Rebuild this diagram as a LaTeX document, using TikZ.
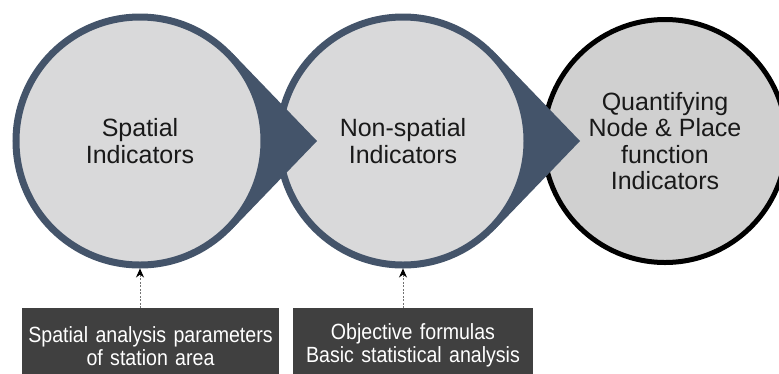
\documentclass[tikz,border=0pt]{standalone}
\usepackage{fontspec}
\setmainfont{Liberation Sans}
\newfontfamily\narrowfont[FakeStretch=0.89]{Liberation Sans}
\usetikzlibrary{arrows.meta}
\definecolor{slate}{HTML}{44546A}
\definecolor{disc}{HTML}{D9D9DA}
\definecolor{discend}{HTML}{D0D0D0}
\definecolor{boxgray}{HTML}{404040}

\begin{document}
\begin{tikzpicture}[x=1pt,y=-1pt] % image coordinates, y down
\tikzstyle{stage} = [circle, draw=slate, line width=7pt, fill=disc, minimum size=248pt, inner sep=0pt, align=center, text=black!90, font=\fontsize{25}{26.5}\selectfont] % stage circle
\tikzstyle{goal} = [stage, draw=black, line width=5pt, fill=discend, minimum size=243pt] % last circle
\tikzstyle{pointer} = [fill=slate] % wedge towards next circle
\tikzstyle{method} = [fill=boxgray, text=white, anchor=north, inner xsep=0pt, inner ysep=14pt, minimum height=75pt, align=center, font=\narrowfont\fontsize{22}{23}\selectfont] % method box
\tikzstyle{feed} = [draw=black!55, line width=0.8pt, dash pattern=on 2pt off 1.5pt, -{Stealth[length=9pt,width=8pt,color=black]}] % dashed input arrow

\clip (0,0) rectangle (779,373);

\coordinate (c1) at (140,141);
\coordinate (c2) at (403,141);
\coordinate (tip1) at (317,141);
\coordinate (tip2) at (580,141);

\node[goal] (quant) at (665,141) {Quantifying\\Node \& Place\\function\\Indicators};

\fill[pointer] (tip2) -- ([shift={(43.92:127.5)}]c2) -- (c2) -- ([shift={(-43.92:127.5)}]c2) -- cycle;
\node[stage] (nonspat) at (c2) {Non-spatial\\Indicators};

\fill[pointer] (tip1) -- ([shift={(43.92:127.5)}]c1) -- (c1) -- ([shift={(-43.92:127.5)}]c1) -- cycle;
\node[stage] (spat) at (c1) {Spatial\\Indicators};

% boxes below
\node[method, text width=257pt] (spatbox) at (150.5,308) {Spatial analysis parameters\\of station area};
\node[method, text width=240pt] (nonbox) at (413,308) {Objective formulas\\Basic statistical analysis};

\draw[feed] (spatbox.north -| spat.south) -- (spat.south);
\draw[feed] (nonbox.north -| nonspat.south) -- (nonspat.south);
\end{tikzpicture}
\end{document}
